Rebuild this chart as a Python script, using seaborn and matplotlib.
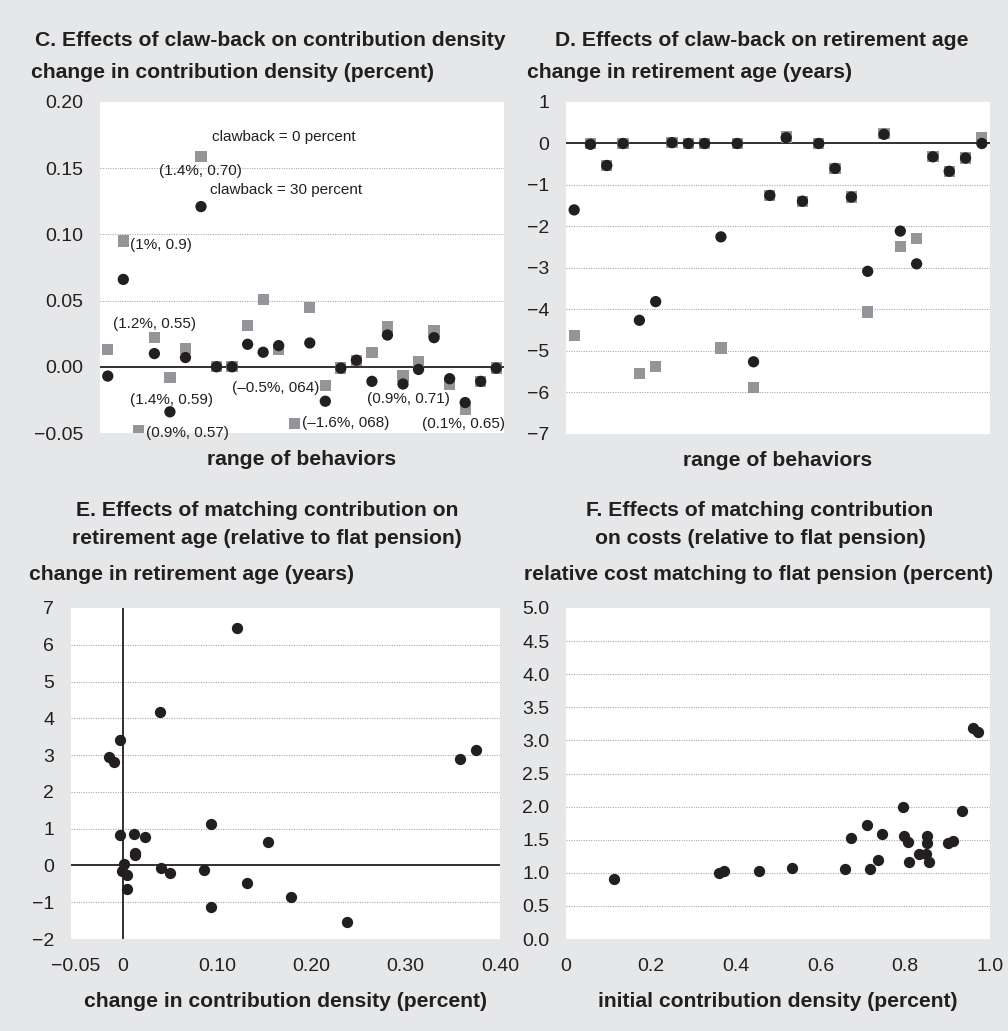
import matplotlib
matplotlib.use("Agg")
import matplotlib.pyplot as plt
import seaborn as sns
import pandas as pd

# ---- Panel C: claw-back effects on contribution density (26 behaviour scenarios)
behaviors = list(range(26))
density_cb0 = [0.013, 0.095, -0.048, 0.022, -0.008, 0.014, 0.159, 0.0, 0.0, 0.031,
               0.051, 0.013, -0.043, 0.045, -0.014, -0.001, 0.005, 0.011, 0.030, -0.007,
               0.004, 0.027, -0.013, -0.032, -0.011, -0.001]
density_cb30 = [-0.007, 0.066, None, 0.010, -0.034, 0.007, 0.121, 0.0, 0.0, 0.017,
                0.011, 0.016, None, 0.018, -0.026, -0.001, 0.005, -0.011, 0.024, -0.013,
                -0.002, 0.022, -0.009, -0.027, -0.011, -0.001]
density_notes = ["(1.4%, 0.70)", "(1%, 0.9)", "(1.2%, 0.55)", "(1.4%, 0.59)", "(0.9%, 0.57)",
                 "(\u20130.5%, 064)", "(\u20131.6%, 068)", "(0.9%, 0.71)", "(0.1%, 0.65)"]
density_note_pos = [(3.3, 0.1477), (1.44, 0.0917), (0.34, 0.0326), (1.44, -0.025), (2.47, -0.050),
                    (8.0, -0.0159), (12.5, -0.0424), (16.7, -0.0242), (20.2, -0.0432)]

# ---- Panel D: claw-back effects on retirement age
retire_cb0 = [-4.63, 0.0, -0.53, 0.0, -5.54, -5.38, 0.02, 0.0, 0.0, -4.93,
              0.0, -5.88, -1.25, 0.16, -1.39, 0.0, -0.6, -1.29, -4.06, 0.24,
              -2.48, -2.29, -0.32, -0.67, -0.35, 0.15]
retire_cb30 = [-1.60, -0.02, -0.53, 0.0, -4.26, -3.81, 0.02, 0.0, 0.0, -2.25,
               0.0, -5.26, -1.25, 0.14, -1.39, 0.0, -0.6, -1.29, -3.08, 0.22,
               -2.11, -2.90, -0.32, -0.67, -0.35, 0.0]

# ---- Panel E: matching contribution, change in density vs change in retirement age
e_density = [-0.015, -0.009, -0.003, 0.039, 0.121, 0.358, 0.375, -0.003, 0.012, 0.024,
             0.094, 0.154, 0.013, 0.013, 0.001, -0.001, 0.004, 0.004, 0.040, 0.050,
             0.086, 0.132, 0.094, 0.178, 0.238]
e_retire = [2.95, 2.81, 3.40, 4.18, 6.45, 2.90, 3.14, 0.84, 0.86, 0.76,
            1.13, 0.65, 0.35, 0.28, 0.04, -0.14, -0.25, -0.64, -0.06, -0.20,
            -0.13, -0.49, -1.14, -0.87, -1.54]

# ---- Panel F: matching contribution, initial density vs relative cost
f_density = [0.113, 0.361, 0.373, 0.456, 0.533, 0.659, 0.671, 0.710, 0.717, 0.736,
             0.745, 0.795, 0.796, 0.806, 0.809, 0.833, 0.848, 0.851, 0.851, 0.855,
             0.900, 0.912, 0.934, 0.961, 0.971]
f_cost = [0.90, 1.00, 1.03, 1.02, 1.07, 1.06, 1.52, 1.72, 1.05, 1.19,
          1.59, 2.00, 1.56, 1.46, 1.16, 1.29, 1.29, 1.55, 1.45, 1.16,
          1.45, 1.48, 1.93, 3.19, 3.13]

BG = "#e6e7e8"
DARK = "#231f20"
GREY = "#939598"

sns.set_theme(style="white")
plt.rcParams["font.family"] = ["Liberation Sans", "DejaVu Sans"]
plt.rcParams["axes.unicode_minus"] = True

fig = plt.figure(figsize=(10.08, 10.31), dpi=100, facecolor=BG)
W, H = 1008, 1031


def panel(left, top, right, bottom):
    ax = fig.add_axes([left / W, 1 - bottom / H, (right - left) / W, (bottom - top) / H])
    ax.set_facecolor("white")
    for s in ax.spines.values():
        s.set_visible(False)
    ax.tick_params(axis="both", length=0, labelsize=14, colors=DARK)
    ax.tick_params(axis="y", pad=12)
    return ax


def dotted_grid(ax, ticks, skip=()):
    for t in ticks:
        if t in skip:
            continue
        ax.axhline(t, color="#a7a9ac", lw=0.8, ls=(0, (1, 1.2)), zorder=0)


def minus_labels(ticks, fmt="{:g}"):
    return [fmt.format(t).replace("-", "\u2212") for t in ticks]


label_kw = dict(fontsize=15.2, fontweight="bold", color=DARK)


def fig_text(x, y, s, ha="center"):
    fig.text(x / W, 1 - y / H, s, ha=ha, va="center", **label_kw)


# ================= C =================
axC = panel(100, 102, 504, 433)
dfC = pd.DataFrame({
    "behavior": behaviors + behaviors,
    "value": density_cb0 + density_cb30,
    "scenario": ["0"] * 26 + ["30"] * 26,
}).dropna()
sns.scatterplot(data=dfC, x="behavior", y="value", hue="scenario", style="scenario",
                palette={"0": GREY, "30": DARK}, markers={"0": "s", "30": "o"},
                s=66, linewidth=0, legend=False, ax=axC, zorder=3)
axC.set_xlim(-0.5, 25.5)
axC.set_ylim(-0.05, 0.20)
c_ticks = [-0.05, 0.0, 0.05, 0.10, 0.15, 0.20]
axC.set_yticks(c_ticks)
axC.set_yticklabels(minus_labels(c_ticks, "{:.2f}"))
axC.set_xticks([])
dotted_grid(axC, c_ticks, skip=(0.0, -0.05, 0.20))
axC.axhline(0, color=DARK, lw=1.3, zorder=1)
axC.set_xlabel("range of behaviors", labelpad=12, **label_kw)
axC.set_ylabel("")
axC.text(6.72, 0.1737, "clawback = 0 percent", fontsize=11, va="center", ha="left", color=DARK)
axC.text(6.59, 0.1333, "clawback = 30 percent", fontsize=11, va="center", ha="left", color=DARK)
for txt, (x, y) in zip(density_notes, density_note_pos):
    axC.text(x, y, txt, fontsize=11, va="center", ha="left", color=DARK, zorder=4)
fig_text(270, 40, "C. Effects of claw-back on contribution density")
fig_text(31, 72, "change in contribution density (percent)", ha="left")

# ================= D =================
axD = panel(566, 102, 990, 434)
dfD = pd.DataFrame({
    "behavior": behaviors + behaviors,
    "value": retire_cb0 + retire_cb30,
    "scenario": ["0"] * 26 + ["30"] * 26,
})
sns.scatterplot(data=dfD, x="behavior", y="value", hue="scenario", style="scenario",
                palette={"0": GREY, "30": DARK}, markers={"0": "s", "30": "o"},
                s=66, linewidth=0, legend=False, ax=axD, zorder=3)
axD.set_xlim(-0.5, 25.5)
axD.set_ylim(-7, 1)
d_ticks = list(range(-7, 2))
axD.set_yticks(d_ticks)
axD.set_yticklabels(minus_labels(d_ticks))
axD.set_xticks([])
dotted_grid(axD, d_ticks, skip=(0, -7, 1))
axD.axhline(0, color=DARK, lw=1.3, zorder=1)
axD.set_xlabel("range of behaviors", labelpad=12, **label_kw)
axD.set_ylabel("")
fig_text(762, 40, "D. Effects of claw-back on retirement age")
fig_text(527, 72, "change in retirement age (years)", ha="left")

# ================= E =================
axE = panel(71, 608, 500, 939)
sns.scatterplot(x=e_density, y=e_retire, color=DARK, s=66, linewidth=0, ax=axE, zorder=3)
axE.set_xlim(-0.055, 0.40)
axE.set_ylim(-2, 7)
e_yticks = list(range(-2, 8))
axE.set_yticks(e_yticks)
axE.set_yticklabels(minus_labels(e_yticks))
axE.set_xticks([-0.05, 0, 0.10, 0.20, 0.30, 0.40])
axE.set_xticklabels(["\u22120.05", "0", "0.10", "0.20", "0.30", "0.40"])
axE.tick_params(axis="x", pad=14)
dotted_grid(axE, e_yticks, skip=(0, -2, 7))
axE.axhline(0, color=DARK, lw=1.3, zorder=1)
axE.axvline(0, color=DARK, lw=1.3, zorder=1)
axE.set_xlabel("change in contribution density (percent)", labelpad=12, **label_kw)
fig_text(267, 510, "E. Effects of matching contribution on")
fig_text(267, 538, "retirement age (relative to flat pension)")
fig_text(29, 575, "change in retirement age (years)", ha="left")

# ================= F =================
axF = panel(566, 608, 990, 939)
sns.scatterplot(x=f_density, y=f_cost, color=DARK, s=66, linewidth=0, ax=axF, zorder=3)
axF.set_xlim(0, 1.0)
axF.set_ylim(0, 5.0)
f_yticks = [0, 0.5, 1.0, 1.5, 2.0, 2.5, 3.0, 3.5, 4.0, 4.5, 5.0]
axF.set_yticks(f_yticks)
axF.set_yticklabels([f"{t:.1f}" for t in f_yticks])
axF.set_xticks([0, 0.2, 0.4, 0.6, 0.8, 1.0])
axF.set_xticklabels(["0", "0.2", "0.4", "0.6", "0.8", "1.0"])
axF.tick_params(axis="x", pad=14)
dotted_grid(axF, f_yticks, skip=(0, 5.0))
axF.set_xlabel("initial contribution density (percent)", labelpad=12, **label_kw)
fig_text(760, 510, "F. Effects of matching contribution")
fig_text(760, 538, "on costs (relative to flat pension)")
fig_text(524, 575, "relative cost matching to flat pension (percent)", ha="left")

fig.savefig("out.png", dpi=100, facecolor=BG)
